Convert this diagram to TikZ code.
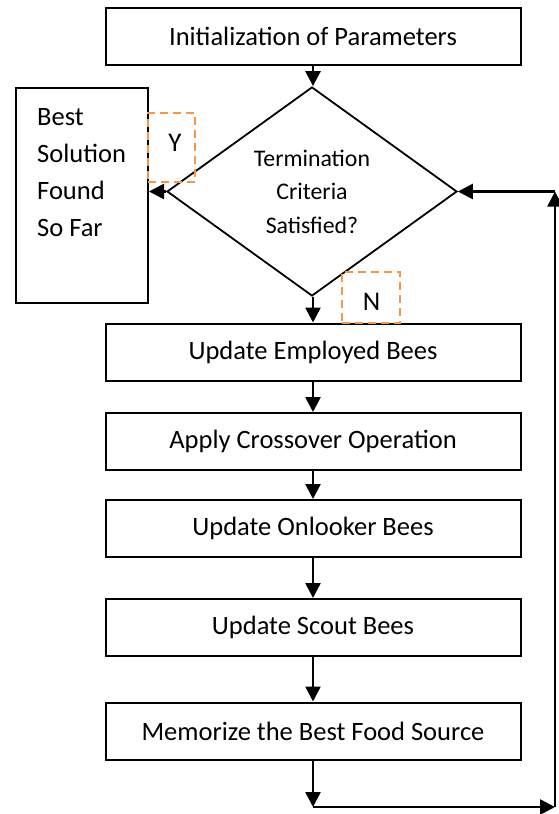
\documentclass[tikz,border=0pt]{standalone}
\usepackage{fontspec}
\setmainfont{Carlito}
\usetikzlibrary{shapes.geometric,arrows.meta}
\definecolor{dashorange}{HTML}{F79646}
\begin{document}
\begin{tikzpicture}[x=1pt,y=-1pt,
  procbox/.style={draw, line width=2pt, minimum width=415pt, minimum height=57pt, inner sep=0pt, font=\fontsize{26.5}{30}\selectfont},
  flow/.style={line width=2.6pt, -{Triangle[length=15pt,width=15pt]}},
  tagbox/.style={draw=dashorange, line width=2.5pt, dash pattern=on 8pt off 5pt, inner sep=0pt},
  taglabel/.style={inner sep=0pt, font=\fontsize{27}{30}\selectfont}]
\useasboundingbox (0,0) rectangle (559,814);
% process boxes
\node[procbox] (init) at (313,36.5) {Initialization of Parameters};
\node[diamond, draw, line width=1.8pt, minimum width=290pt, minimum height=209pt, inner sep=0pt, align=center, font=\fontsize{23.8}{33.5}\selectfont] (dec) at (312,191.5) {Termination\\Criteria\\Satisfied?};
\node[draw, line width=2pt, minimum width=132pt, minimum height=215pt, inner sep=0pt] (best) at (82,195.5) {};
\node[anchor=north west, inner sep=0pt, align=left, font=\fontsize{26.5}{37}\selectfont] (besttext) at (37,108.3) {Best\\Solution\\Found\\So Far};
\node[procbox] (emp) at (313,352) {Update Employed Bees};
\node[procbox] (cross) at (313,441.5) {Apply Crossover Operation};
\node[procbox] (onl) at (313,528.5) {Update Onlooker Bees};
\node[procbox] (scout) at (313,627.5) {Update Scout Bees};
\node[procbox] (mem) at (313,731) {Memorize the Best Food Source};
% Y / N tags
\node[tagbox, minimum width=47pt, minimum height=69pt] (ybox) at (171.5,147.5) {};
\node[taglabel] (ylab) at (175,143) {Y};
\node[tagbox, minimum width=58pt, minimum height=51pt] (nbox) at (371,297.5) {};
\node[taglabel] (nlab) at (371.5,302) {N};
% connectors
\draw[flow] (init.south) -- (init.south |- dec.north);
\draw[flow] (dec.west) -- (dec.west -| best.east);
\draw[flow] (emp.north |- dec.south) -- (emp.north);
\draw[flow] (emp.south) -- (cross.north);
\draw[flow] (cross.south) -- (onl.north);
\draw[flow] (onl.south) -- (scout.north);
\draw[flow] (scout.south) -- (mem.north);
\coordinate (c1) at (313,807);
\coordinate (c2) at (555,807);
\coordinate (c3) at (dec.east -| c2);
\draw[flow] (mem.south) -- (c1);
\draw[flow] (c1) -- (c2);
\draw[flow] (c2) -- (c3);
\draw[flow] (c3) -- (dec.east);
\end{tikzpicture}
\end{document}
